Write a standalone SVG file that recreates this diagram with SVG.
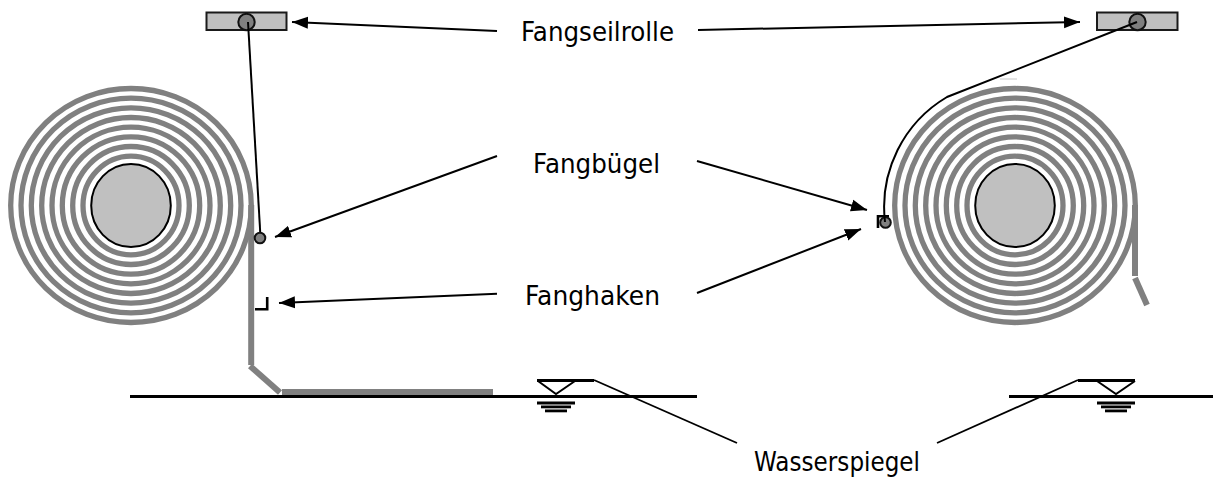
<svg xmlns="http://www.w3.org/2000/svg" width="1213" height="477" viewBox="0 0 1213 477">
<style>
.ring{fill:none;stroke:#808080;stroke-width:5.3}
.strip{fill:none;stroke:#808080;stroke-width:6}
.hub{fill:#c0c0c0;stroke:#000;stroke-width:2}
.box{fill:#c0c0c0;stroke:#1a1a1a;stroke-width:2}
.roll{fill:#808080;stroke:#111;stroke-width:2}
.cable{fill:none;stroke:#000;stroke-width:2}
.water{fill:none;stroke:#000;stroke-width:3}
.sym{fill:none;stroke:#000;stroke-width:2}
.bar{fill:#000}
.lead{fill:none;stroke:#000;stroke-width:1.9}
.arrow{fill:none;stroke:#000;stroke-width:2;marker-end:url(#head)}
.hook{fill:none;stroke:#000;stroke-width:2.6}
text{font-family:"DejaVu Sans","Liberation Sans",sans-serif;font-size:27px;fill:#000}
</style>
<defs>
<marker id="head" markerUnits="userSpaceOnUse" markerWidth="17" markerHeight="13" refX="16" refY="6.500" orient="auto"><path d="M0,0.500 L16,6.500 L0,12.500 Z" fill="#000"/></marker>
<g id="coil">
<ellipse class="ring" rx="120.3" ry="117"/>
<ellipse class="ring" rx="110" ry="107.3"/>
<ellipse class="ring" rx="99.7" ry="97.7"/>
<ellipse class="ring" rx="89.3" ry="88"/>
<ellipse class="ring" rx="79" ry="78.3"/>
<ellipse class="ring" rx="68.7" ry="68.7"/>
<ellipse class="ring" rx="58.3" ry="59"/>
<ellipse class="ring" rx="48" ry="49.3"/>
<ellipse class="hub" rx="39.8" ry="41.5"/>
</g>
</defs>
<g id="coil-left">
<use href="#coil" x="131" y="205.5"/>
<path class="strip" d="M251.2,205 V365"/>
<path class="strip" d="M250,366 L280,392.500"/>
<rect x="282" y="389" width="211" height="6.500" fill="#808080"/>
</g>
<g id="coil-right">
<use href="#coil" x="1015" y="205.500"/>
<path class="strip" d="M1135,205 V276"/>
<path class="strip" d="M1135,278 L1147,305"/>
<path d="M1000,79 H1017" stroke="#c8c8c8" stroke-width="1" fill="none"/>
</g>
<g id="pulley-left">
<rect class="box" x="206.500" y="12.500" width="80" height="17.500"/>
<circle class="roll" cx="246.500" cy="22" r="8.200"/>
</g>
<g id="pulley-right">
<rect class="box" x="1097" y="12.500" width="80.500" height="17.500"/>
<circle class="roll" cx="1137.500" cy="22" r="8.200"/>
</g>
<g id="cable-left">
<path class="cable" d="M248,22 L260.500,237"/>
<circle class="roll" cx="260" cy="238" r="5.300"/>
</g>
<g id="hook-left">
<path class="hook" d="M255,309.200 H267.200 V297"/>
</g>
<g id="cable-right">
<path class="hook" d="M878,228 V216.200 H889"/>
<circle class="roll" cx="885.500" cy="222.500" r="5.300"/>
<path class="cable" d="M1137,22 L947,97 A128,128 0 0 0 885,222"/>
</g>
<g id="water-left">
<path class="water" d="M130,396.500 H697"/>
<path class="water" d="M537,380.500 H594"/>
<path class="sym" d="M538,381 L556,394 L575,381"/>
<rect class="bar" x="537" y="401.500" width="38" height="3"/>
<rect class="bar" x="541" y="405.500" width="30" height="2.800"/>
<rect class="bar" x="545" y="409.500" width="22" height="2.800"/>
</g>
<g id="water-right">
<path class="water" d="M1009,396.500 H1213"/>
<path class="water" d="M1078,380.500 H1135"/>
<path class="sym" d="M1097,381 L1116,394 L1135,381"/>
<rect class="bar" x="1097" y="401.500" width="38" height="3"/>
<rect class="bar" x="1101" y="405.500" width="30" height="2.800"/>
<rect class="bar" x="1105" y="409.500" width="22" height="2.800"/>
</g>
<g id="connectors">
<path class="arrow" d="M497,31 L292,22"/>
<path class="arrow" d="M698,30 L1080,22"/>
<path class="arrow" d="M497,156 L275,237"/>
<path class="arrow" d="M697,161 L867,210"/>
<path class="arrow" d="M497,293.700 L279,303"/>
<path class="arrow" d="M697,293 L861,229"/>
<path class="lead" d="M594,380 L737,443"/>
<path class="lead" d="M1078,380 L937,443"/>
</g>
<g id="labels">
<text x="521" y="41" textLength="153" lengthAdjust="spacingAndGlyphs">Fangseilrolle</text>
<text x="533" y="173" textLength="127" lengthAdjust="spacingAndGlyphs">Fangbügel</text>
<text x="525" y="305" textLength="135" lengthAdjust="spacingAndGlyphs">Fanghaken</text>
<text x="754" y="471" textLength="166" lengthAdjust="spacingAndGlyphs">Wasserspiegel</text>
</g>
</svg>
